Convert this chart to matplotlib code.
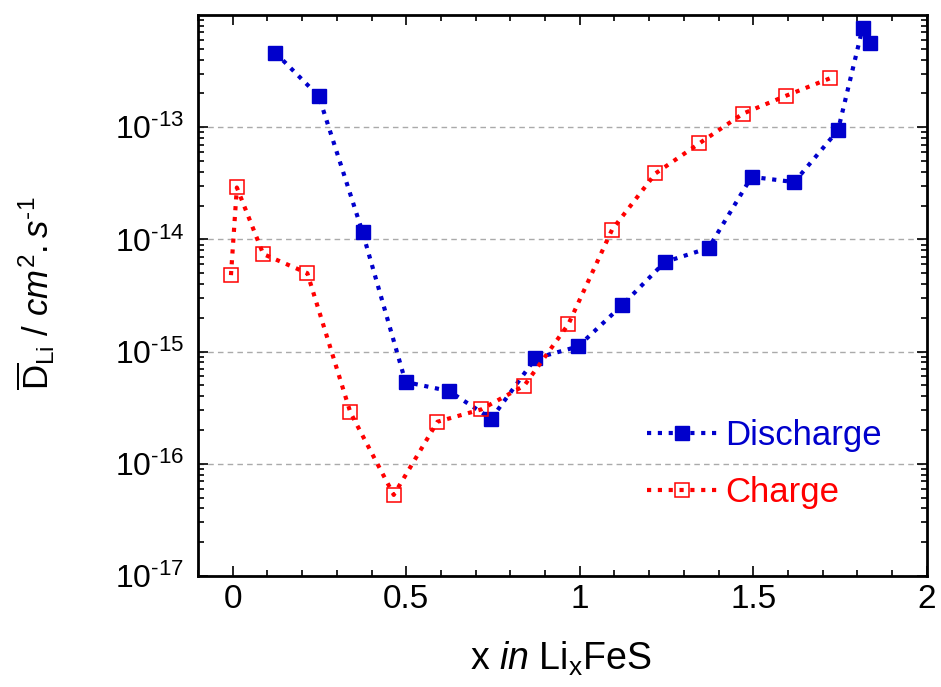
import matplotlib
matplotlib.use('Agg')
import matplotlib.pyplot as plt
from matplotlib.ticker import MultipleLocator, LogLocator, NullFormatter, FixedLocator

plt.rcParams['font.family'] = ['Liberation Sans', 'DejaVu Sans']
plt.rcParams['mathtext.fontset'] = 'custom'
plt.rcParams['mathtext.rm'] = 'Liberation Sans'
plt.rcParams['mathtext.it'] = 'Liberation Sans:italic'
plt.rcParams['mathtext.bf'] = 'Liberation Sans:bold'

# discharge branch
x_dis = [0.123, 0.248, 0.374, 0.498, 0.623, 0.745, 0.872, 0.995, 1.122,
         1.245, 1.371, 1.495, 1.618, 1.744, 1.815, 1.835]
d_dis = [4.6e-13, 1.89e-13, 1.16e-14, 5.36e-16, 4.45e-16, 2.52e-16, 8.7e-16,
         1.11e-15, 2.59e-15, 6.28e-15, 8.37e-15, 3.61e-14, 3.24e-14, 9.4e-14,
         7.7e-13, 5.6e-13]

# charge branch
x_chg = [-0.005, 0.012, 0.088, 0.215, 0.339, 0.464, 0.590, 0.716, 0.840,
         0.967, 1.093, 1.218, 1.344, 1.470, 1.595, 1.720]
d_chg = [4.8e-15, 2.9e-14, 7.4e-15, 5.0e-15, 2.87e-16, 5.28e-17, 2.37e-16,
         3.05e-16, 4.97e-16, 1.75e-15, 1.22e-14, 3.87e-14, 7.16e-14, 1.32e-13,
         1.91e-13, 2.72e-13]

y_decades = [1e-17, 1e-16, 1e-15, 1e-14, 1e-13]
y_exps = [17, 16, 15, 14, 13]

blue = '#0000cc'
red = '#ff0000'

fig = plt.figure(figsize=(9.41, 6.87), dpi=100)
ax = fig.add_axes([0.2104, 0.1616, 0.7746, 0.8166])

ax.plot(x_dis, d_dis, ls=(0, (1, 1.6)), lw=3, color=blue, marker='s',
        ms=10, mfc=blue, mec=blue, mew=1, label='Discharge', zorder=3)
ax.plot(x_chg, d_chg, ls=(0, (1, 1.6)), lw=3, color=red, marker='s',
        ms=10, mfc='none', mec=red, mew=1.1, label='Charge', zorder=3)

ax.set_yscale('log')
ax.set_xlim(-0.1, 2)
ax.set_ylim(1e-17, 1e-12)

ax.xaxis.set_major_locator(MultipleLocator(0.5))
ax.xaxis.set_minor_locator(MultipleLocator(0.1))
ax.xaxis.set_major_formatter(plt.FuncFormatter(lambda v, p: '%g' % v))
ax.yaxis.set_major_locator(FixedLocator(y_decades))
ax.set_yticklabels([r'10$^{\text{-%d}}$' % e for e in y_exps])
ax.yaxis.set_minor_locator(LogLocator(base=10, subs=range(2, 10), numticks=20))
ax.yaxis.set_minor_formatter(NullFormatter())

ax.tick_params(which='both', direction='in', top=True, right=True, width=1.2)
ax.tick_params(which='major', length=7)
ax.tick_params(which='minor', length=4)
ax.tick_params(axis='x', labelsize=24, pad=6)
ax.tick_params(axis='y', labelsize=23, pad=10)
for s in ax.spines.values():
    s.set_linewidth(2)

ax.grid(True, which='major', axis='y', ls=(0, (4, 3)), color='#aaaaaa', lw=1)

fig.text(561 / 941, 1 - 670 / 687, r'x $\mathit{in}$ Li$_{\mathrm{x}}$FeS',
         fontsize=27, ha='center', va='baseline')
fig.text(15 / 941, 1 - 293 / 687,
         r'$\overline{\mathrm{D}}_{\mathrm{Li}}$ / $\mathit{cm}^{2}\mathit{.s}^{\text{-1}}$',
         fontsize=25, rotation=90, ha='left', va='center')

ax.legend(loc='center left', bbox_to_anchor=(630 / 941, 1 - 464 / 687),
          bbox_transform=fig.transFigure, frameon=False, borderpad=0,
          fontsize=25, handlelength=2.0, labelspacing=0.68, handletextpad=0.25,
          labelcolor='linecolor')

plt.savefig('out.png', dpi=100)
